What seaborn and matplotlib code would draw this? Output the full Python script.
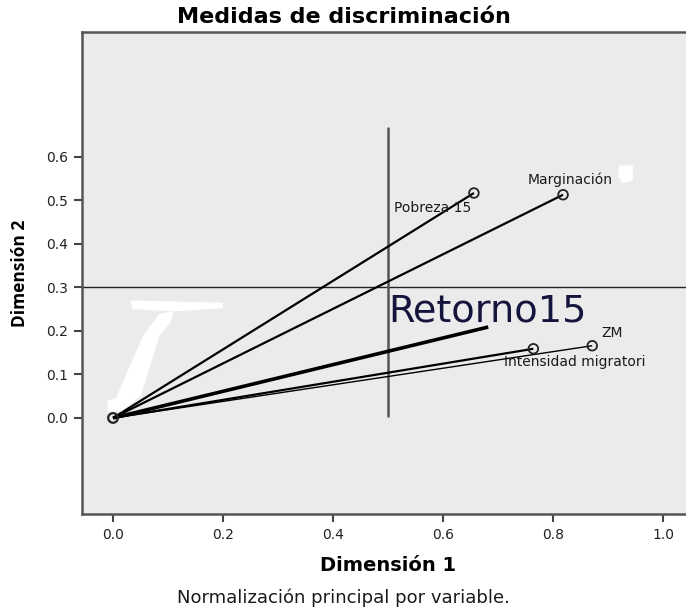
import numpy as np
import pandas as pd
import matplotlib
matplotlib.use("Agg")
import matplotlib.pyplot as plt
import seaborn as sns
from matplotlib.patches import Polygon

# values
variables = ["Pobreza 15", "Marginación", "Retorno15", "Intensidad migratori", "ZM"]
dim1 = [0.656, 0.818, 0.682, 0.764, 0.871]
dim2 = [0.517, 0.513, 0.209, 0.159, 0.166]
widths = [1.6, 1.6, 2.6, 1.6, 1.0]
show_point = [True, True, False, True, True]

xticks = [0.0, 0.2, 0.4, 0.6, 0.8, 1.0]
yticks = [0.0, 0.1, 0.2, 0.3, 0.4, 0.5, 0.6]

sns.set_style("white")
plt.rcParams['font.family'] = ['DejaVu Sans']

fig = plt.figure(figsize=(6.86, 6.12), dpi=100)
ax = fig.add_axes([82/686, 98/612, 612/686, 482/612])
ax.set_facecolor("#ebebeb")

# reference lines
ax.axhline(0.3, color="#222222", lw=1.0)
ax.plot([0.5, 0.5], [0.005, 0.667], color="#555555", lw=1.8)

# vectors from origin
for name, x, y, w in zip(variables, dim1, dim2, widths):
    ax.plot([0, x], [0, y], color="black", lw=w, solid_capstyle="butt")

df = pd.DataFrame({"var": variables, "d1": dim1, "d2": dim2, "pt": show_point})
pts = df[df.pt]
sns.scatterplot(data=pts, x="d1", y="d2", ax=ax, marker="o", s=48,
                facecolor="none", edgecolor="#222222", linewidth=1.3, zorder=5)
ax.scatter([0], [0], s=48, facecolor="none", edgecolor="#222222", linewidths=1.6, zorder=5)

offsets = {
    "Pobreza 15": (-30, -11),
    "Marginación": (5, 11),
    "ZM": (14, 9),
    "Intensidad migratori": (30, -9.5),
}
for name, x, y in zip(variables, dim1, dim2):
    if name in offsets:
        dx, dy = offsets[name]
        ax.annotate(name, (x, y), xytext=(dx, dy), textcoords="offset points",
                    ha="center", va="center", fontsize=10, color="#1a1a1a")

ax.text(0.5, 0.221, "Retorno15", fontsize=27.5, color="#14143c",
        va="baseline", ha="left")

# white retouch marks from the original image
white_marks = [
    [(0.032, 0.27), (0.20, 0.265), (0.20, 0.252), (0.11, 0.245), (0.035, 0.25)],
    [(0.085, 0.24), (0.11, 0.245), (0.105, 0.22), (0.085, 0.19), (0.05, 0.05), (0.015, 0.015),
     (-0.01, 0.015), (-0.01, 0.04), (0.005, 0.045), (0.055, 0.19)],
    [(0.92, 0.58), (0.945, 0.58), (0.945, 0.545), (0.925, 0.54), (0.918, 0.555)],
]
for poly in white_marks:
    ax.add_patch(Polygon(poly, closed=True, facecolor="white", edgecolor="none", zorder=2))

ax.set_xlim(-0.0564, 1.056)
ax.set_ylim(-0.2207, 0.887)
ax.set_xticks(xticks)
ax.set_yticks(yticks)
ax.set_xticklabels([f"{v:.1f}" for v in xticks], fontsize=10, color="#222222")
ax.set_yticklabels([f"{v:.1f}" for v in yticks], fontsize=10, color="#222222")
ax.tick_params(axis="both", direction="out", length=6, width=1.5, color="#444444", pad=4,
               bottom=True, left=True)

for side in ["left", "bottom", "top"]:
    ax.spines[side].set_color("#555555")
    ax.spines[side].set_linewidth(1.8)
ax.spines["right"].set_visible(False)

ax.set_xlabel("Dimensión 1", fontsize=14, fontweight="bold", labelpad=10, color="black")
ax.set_ylabel("Dimensión 2", fontsize=12.5, fontweight="bold", labelpad=12, color="black",
              family=["Open Sans", "DejaVu Sans"])
fig.text(344/686, 1 - 17/612, "Medidas de discriminación", ha="center", va="center",
         fontsize=16, fontweight="bold", color="black")
fig.text(343/686, 1 - 598/612, "Normalización principal por variable.", ha="center",
         va="center", fontsize=13, color="#1a1a1a")

fig.savefig("out.png", dpi=100)
